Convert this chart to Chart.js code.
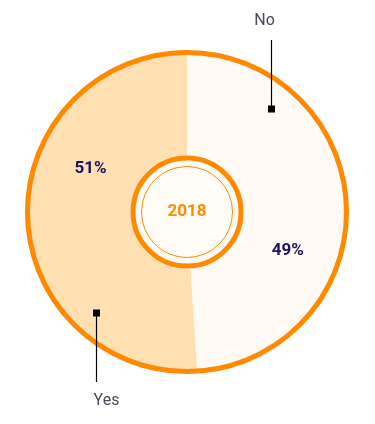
<!DOCTYPE html>
<html>
<head>
<meta charset="utf-8">
<script src="https://cdn.jsdelivr.net/npm/chart.js@4.4.1/dist/chart.umd.min.js"></script>
<style>
  html, body { margin: 0; padding: 0; background: #fff; }
  #wrap { width: 375px; height: 424px; position: relative; }
</style>
</head>
<body>
<div id="wrap"><canvas id="pie"></canvas></div>
<script>
// data
const answers = ['No', 'Yes'];
const shares = [49, 51];
const sliceColors = ['#FFFAF3', '#FFE0B2'];
const centerLabel = '2018';

const ORANGE = '#FF8A00';

// rings, percentages, callouts and the year in the middle
const decorations = {
	id: 'decorations',
	afterDatasetsDraw(chart) {
		const ctx = chart.ctx;
		const meta = chart.getDatasetMeta(0);
		const first = meta.data[0].getProps(['x', 'y', 'outerRadius'], true);
		const cx = first.x, cy = first.y, R = first.outerRadius;
		const k = R / 162;
		const deg = Math.PI / 180;

		ctx.save();

		// outer orange ring
		ctx.beginPath();
		ctx.arc(cx, cy, R - 2.5 * k, 0, Math.PI * 2);
		ctx.lineWidth = 5;
		ctx.strokeStyle = ORANGE;
		ctx.stroke();

		// inner disc
		ctx.beginPath();
		ctx.arc(cx, cy, 56.5 * k, 0, Math.PI * 2);
		ctx.fillStyle = '#FFFCF8';
		ctx.fill();
		ctx.beginPath();
		ctx.arc(cx, cy, 54 * k, 0, Math.PI * 2);
		ctx.lineWidth = 5;
		ctx.strokeStyle = ORANGE;
		ctx.stroke();
		ctx.beginPath();
		ctx.arc(cx, cy, 45.5 * k, 0, Math.PI * 2);
		ctx.lineWidth = 1;
		ctx.stroke();

		ctx.textAlign = 'center';
		ctx.textBaseline = 'middle';
		ctx.fillStyle = ORANGE;
		ctx.font = 'bold 17px Roboto';
		ctx.fillText(centerLabel, cx, cy);

		// per-slice placement of percentage and callout, relative to slice middle
		const pctTurn = [22.7, 25.8], pctDist = [108, 105.6];
		const markTurn = [-48.9, -46.3], markDist = [132.5, 136];
		const textShift = [-7, 10];

		meta.data.forEach((arc, i) => {
			const p = arc.getProps(['startAngle', 'endAngle'], true);
			const mid = (p.startAngle + p.endAngle) / 2;

			// percentage
			const a = mid + pctTurn[i] * deg;
			ctx.fillStyle = '#1B1464';
			ctx.font = 'bold 17px Roboto';
			ctx.fillText(shares[i] + '%', cx + pctDist[i] * k * Math.cos(a), cy + pctDist[i] * k * Math.sin(a));

			// callout marker + line + label
			const b = mid + markTurn[i] * deg;
			const mx = Math.round(cx + markDist[i] * k * Math.cos(b)) + 0.5;
			const my = Math.round(cy + markDist[i] * k * Math.sin(b));
			const dir = my < cy ? -1 : 1;
			const ly = my + dir * 69;
			ctx.fillStyle = '#000';
			ctx.fillRect(mx - 3.5, my - 3.5, 7, 7);
			ctx.beginPath();
			ctx.moveTo(mx, my);
			ctx.lineTo(mx, ly);
			ctx.lineWidth = 1.2;
			ctx.strokeStyle = '#000';
			ctx.stroke();
			ctx.fillStyle = '#4A4A55';
			ctx.font = '16px Roboto';
			ctx.fillText(answers[i], mx + textShift[i], ly + dir * 19);
		});

		ctx.restore();
	}
};

new Chart(document.getElementById('pie'), {
	type: 'pie',
	data: {
		labels: answers,
		datasets: [{
			data: shares,
			backgroundColor: sliceColors,
			borderWidth: 0
		}]
	},
	options: {
		responsive: true,
		maintainAspectRatio: false,
		animation: false,
		layout: { padding: { left: 25, right: 26, top: 50, bottom: 50 } },
		plugins: {
			legend: { display: false },
			tooltip: { enabled: false }
		}
	},
	plugins: [decorations]
});
</script>
</body>
</html>
